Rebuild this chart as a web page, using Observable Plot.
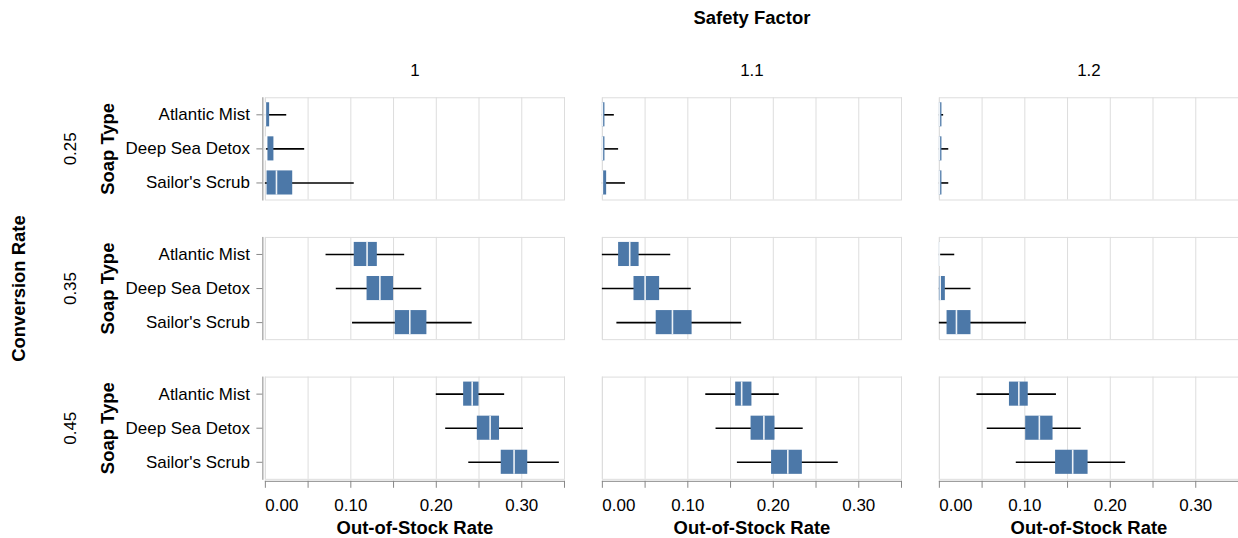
<!DOCTYPE html>
<html>
<head>
<meta charset="utf-8">
<script src="https://cdn.jsdelivr.net/npm/d3@7"></script>
<script src="https://cdn.jsdelivr.net/npm/@observablehq/plot@0.6"></script>
<style>
html, body { margin: 0; padding: 0; background: #fff; overflow: hidden; }
svg { display: block; }
</style>
</head>
<body>
<div id="chart"></div>
<script>
// Categories
const soapTypes = ["Atlantic Mist", "Deep Sea Detox", "Sailor's Scrub"];
const safetyFactors = [1, 1.1, 1.2];
const conversionRates = [0.25, 0.35, 0.45];
const xTicks = [0, 0.05, 0.10, 0.15, 0.20, 0.25, 0.30, 0.35];
const xLabelTicks = [0.10, 0.20, 0.30];
const xFirstLabel = [0];

// Box-plot summaries, ordered: conversion rate -> safety factor -> soap type
const whiskerLow = [
  0.000, 0.000, 0.000,   0.000, 0.000, 0.000,   0.000, 0.000, 0.000,
  0.071, 0.083, 0.102,   0.000, 0.000, 0.017,   0.000, 0.000, 0.000,
  0.200, 0.211, 0.238,   0.121, 0.133, 0.158,   0.044, 0.056, 0.090
];
const quartileLow = [
  0.001, 0.003, 0.002,   0.000, 0.000, 0.001,   0.000, 0.000, 0.000,
  0.104, 0.119, 0.152,   0.019, 0.037, 0.063,   0.000, 0.000, 0.009,
  0.232, 0.248, 0.276,   0.156, 0.174, 0.198,   0.082, 0.101, 0.136
];
const median = [
  0.000, 0.000, 0.013,   0.000, 0.000, 0.000,   0.000, 0.000, 0.000,
  0.119, 0.134, 0.169,   0.032, 0.050, 0.082,   0.000, 0.001, 0.020,
  0.242, 0.263, 0.291,   0.163, 0.189, 0.217,   0.093, 0.117, 0.156
];
const quartileHigh = [
  0.005, 0.010, 0.032,   0.003, 0.003, 0.005,   0.003, 0.003, 0.003,
  0.131, 0.150, 0.189,   0.043, 0.067, 0.105,   0.001, 0.007, 0.037,
  0.250, 0.274, 0.307,   0.175, 0.202, 0.234,   0.104, 0.133, 0.174
];
const whiskerHigh = [
  0.025, 0.046, 0.104,   0.014, 0.019, 0.027,   0.005, 0.011, 0.011,
  0.163, 0.183, 0.242,   0.080, 0.104, 0.163,   0.018, 0.037, 0.102,
  0.280, 0.302, 0.344,   0.207, 0.235, 0.276,   0.137, 0.166, 0.218
];

const rows = [];
let k = 0;
for (const cr of conversionRates)
  for (const sf of safetyFactors)
    for (const soap of soapTypes) {
      rows.push({cr, sf, soap,
        lo: whiskerLow[k], q1: quartileLow[k], med: median[k],
        q3: quartileHigh[k], hi: whiskerHigh[k]});
      k++;
    }

const rowTitles = conversionRates.map(cr => ({cr, sf: safetyFactors[0]}));
const colTitles = safetyFactors.map(sf => ({sf, cr: conversionRates[conversionRates.length - 1]}));

const FONT = "'Liberation Sans', Arial, Helvetica, sans-serif";
const LABEL = 17;
const TITLE = 18.5;

const chart = Plot.plot({
  width: 1241,
  height: 538,
  marginLeft: 265.5,
  marginRight: 0,
  marginTop: 97.5,
  marginBottom: 58,
  style: {fontFamily: FONT, fontSize: LABEL + "px", color: "#000", background: "#fff", overflow: "visible"},
  x: {domain: [0, 0.35], axis: null},
  y: {domain: soapTypes, padding: 0, round: false, axis: null},
  fx: {domain: safetyFactors, paddingInner: 0.1124, paddingOuter: 0, round: false, axis: null},
  fy: {domain: conversionRates, paddingInner: 0.268, paddingOuter: 0, round: false, axis: null},
  marks: [
    Plot.gridX({ticks: xTicks, stroke: "#ddd", strokeOpacity: 1, strokeWidth: 1}),
    Plot.frame({stroke: "#ddd"}),
    // domain lines
    Plot.frame({anchor: "left", facetAnchor: "left", stroke: "#888", dx: -2.5}),
    Plot.frame({anchor: "bottom", facetAnchor: "bottom", stroke: "#888", dy: 2}),
    // whiskers
    Plot.ruleY(rows, {fx: "sf", fy: "cr", y: "soap", x1: "lo", x2: "hi", stroke: "#000", strokeWidth: 1.6}),
    // boxes
    Plot.barX(rows, {fx: "sf", fy: "cr", y: "soap", x1: "q1", x2: "q3", fill: "#4c78a8", insetTop: 5, insetBottom: 5}),
    // medians
    Plot.tickX(rows, {fx: "sf", fy: "cr", y: "soap", x: "med", stroke: "#fff", strokeOpacity: 0.9, strokeWidth: 1.6, insetTop: 5, insetBottom: 5}),
    // y axis
    Plot.axisY({anchor: "left", tickSize: 6, tickPadding: 7, stroke: "#888", dx: -2.5, fontSize: LABEL, label: null}),
    Plot.text(rowTitles, {fx: "sf", fy: "cr", text: () => "Soap Type", frameAnchor: "left", rotate: -90,
      textAnchor: "middle", lineAnchor: "top", dx: -164.5, fontWeight: "bold", fontSize: TITLE}),
    // x axis
    Plot.axisX({ticks: xTicks, tickSize: 7, stroke: "#888", fill: "none", dy: 2, label: null}),
    Plot.axisX({ticks: xLabelTicks, tickSize: 0, tickPadding: 20, tickFormat: d3.format(".2f"), fontSize: LABEL, label: null}),
    Plot.axisX({ticks: xFirstLabel, tickSize: 0, tickPadding: 20, tickFormat: d3.format(".2f"), textAnchor: "start", fontSize: LABEL, label: null}),
    Plot.text(colTitles, {fx: "sf", fy: "cr", text: () => "Out-of-Stock Rate", frameAnchor: "bottom",
      lineAnchor: "top", dy: 42, fontWeight: "bold", fontSize: TITLE}),
    // facet axes
    Plot.axisFx({anchor: "top", tickSize: 0, tickPadding: 22, fontSize: LABEL, label: null}),
    Plot.axisFx({anchor: "top", ticks: [], label: "Safety Factor", labelAnchor: "center", labelOffset: 87,
      fontWeight: "bold", fontSize: TITLE}),
    Plot.axisFy({anchor: "left", tickSize: 0, tickRotate: -90, tickPadding: 190, fontSize: LABEL, label: null}),
    Plot.axisFy({anchor: "left", ticks: [], label: "Conversion Rate", labelAnchor: "center", labelOffset: 254.5,
      fontWeight: "bold", fontSize: TITLE})
  ]
});

document.getElementById("chart").appendChild(chart);
</script>
</body>
</html>
